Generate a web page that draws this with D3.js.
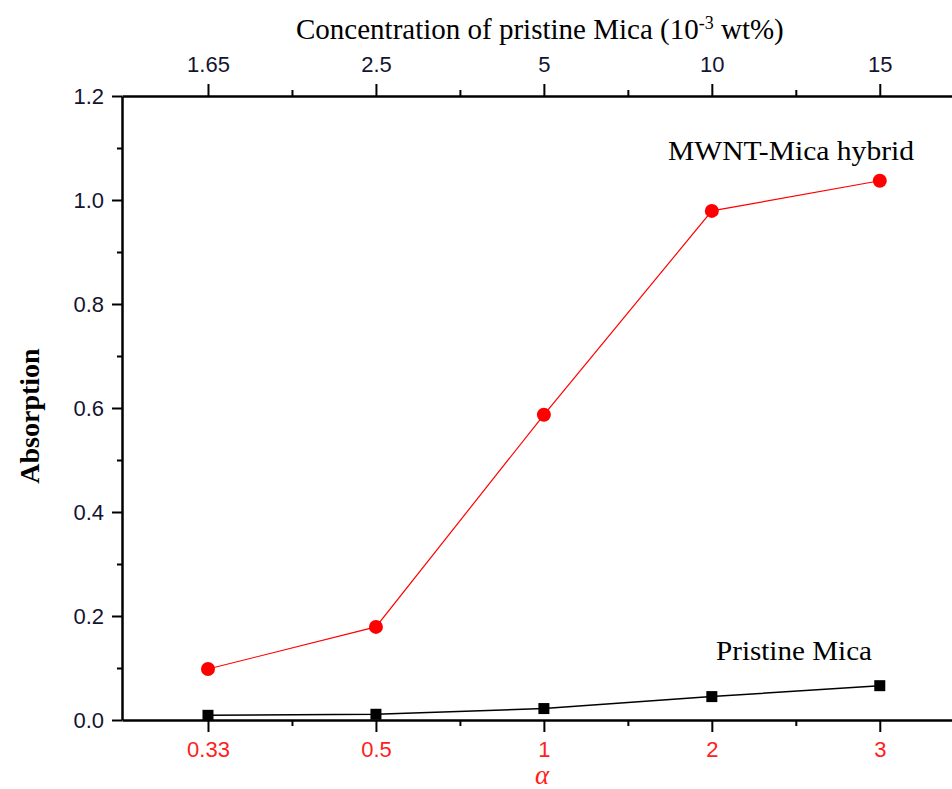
<!DOCTYPE html>
<html>
<head>
<meta charset="utf-8">
<script src="https://cdn.jsdelivr.net/npm/d3@7"></script>
<style>
  html, body { margin: 0; padding: 0; background: #fff; }
  svg { display: block; }
</style>
</head>
<body>
<script>
// ---- data ----
const alphaLabels = ["0.33", "0.5", "1", "2", "3"];
const concLabels = ["1.65", "2.5", "5", "10", "15"];
const hybridValues = [0.098, 0.179, 0.587, 0.979, 1.037];
const pristineValues = [0.009, 0.011, 0.022, 0.045, 0.066];
const yTickValues = [0, 0.2, 0.4, 0.6, 0.8, 1.0, 1.2];
const yMinorValues = [0.1, 0.3, 0.5, 0.7, 0.9, 1.1];
const xMinorValues = [0.5, 1.5, 2.5, 3.5];

const W = 952, H = 789;
const svg = d3.select("body").append("svg").attr("width", W).attr("height", H);

const x = d3.scaleLinear().domain([-0.512, 4.43]).range([122, 952]);
const y = d3.scaleLinear().domain([0, 1.2]).range([720, 96]);

const sansFont = "'Liberation Sans', Arial, sans-serif";
const serifFont = "'Liberation Serif', 'Times New Roman', serif";

function styleAxis(g, color, width) {
  g.select(".domain").attr("stroke", "#000").attr("stroke-width", width);
  g.selectAll(".tick line").attr("stroke", "#000").attr("stroke-width", 2);
  g.selectAll(".tick text").attr("fill", color)
    .style("font-family", sansFont).style("font-size", "22px");
}

// bottom axis
const xb = svg.append("g").attr("transform", `translate(0,${y(0)})`)
  .call(d3.axisBottom(x).tickValues(d3.range(alphaLabels.length))
    .tickFormat(i => alphaLabels[i]).tickSize(12).tickSizeOuter(0).tickPadding(9));
styleAxis(xb, "#ff2020", 2.5);
svg.append("g").attr("transform", `translate(0,${y(0)})`)
  .call(d3.axisBottom(x).tickValues(xMinorValues).tickFormat("").tickSize(6).tickSizeOuter(0))
  .call(g => { g.select(".domain").remove(); g.selectAll("line").attr("stroke", "#000").attr("stroke-width", 2); });

// top axis
const xt = svg.append("g").attr("transform", `translate(0,${y(1.2)})`)
  .call(d3.axisTop(x).tickValues(d3.range(concLabels.length))
    .tickFormat(i => concLabels[i]).tickSize(12).tickSizeOuter(0).tickPadding(12));
styleAxis(xt, "#141432", 2.5);
svg.append("g").attr("transform", `translate(0,${y(1.2)})`)
  .call(d3.axisTop(x).tickValues(xMinorValues).tickFormat("").tickSize(6).tickSizeOuter(0))
  .call(g => { g.select(".domain").remove(); g.selectAll("line").attr("stroke", "#000").attr("stroke-width", 2); });

// left axis
const yl = svg.append("g").attr("transform", `translate(${x.range()[0]},0)`)
  .call(d3.axisLeft(y).tickValues(yTickValues).tickFormat(d3.format(".1f"))
    .tickSize(10).tickSizeOuter(0).tickPadding(8));
styleAxis(yl, "#141432", 2.5);
svg.append("g").attr("transform", `translate(${x.range()[0]},0)`)
  .call(d3.axisLeft(y).tickValues(yMinorValues).tickFormat("").tickSize(5).tickSizeOuter(0))
  .call(g => { g.select(".domain").remove(); g.selectAll("line").attr("stroke", "#000").attr("stroke-width", 2); });

// lines
const line = d3.line().x((d, i) => x(i)).y(d => y(d));
svg.append("path").datum(pristineValues).attr("d", line)
  .attr("fill", "none").attr("stroke", "#000").attr("stroke-width", 1.5);
svg.append("path").datum(hybridValues).attr("d", line)
  .attr("fill", "none").attr("stroke", "#ff0000").attr("stroke-width", 1.2);

// markers
svg.append("g").selectAll("rect").data(pristineValues).join("rect")
  .attr("x", (d, i) => x(i) - 5.5).attr("y", d => y(d) - 5.5)
  .attr("width", 11).attr("height", 11).attr("fill", "#000");
svg.append("g").selectAll("circle").data(hybridValues).join("circle")
  .attr("cx", (d, i) => x(i)).attr("cy", d => y(d)).attr("r", 7).attr("fill", "#ff0000");

// texts
const title = svg.append("text").attr("x", 296).attr("y", 39)
  .style("font-family", serifFont).style("font-size", "29px").attr("fill", "#000");
title.append("tspan").text("Concentration of pristine Mica (10");
title.append("tspan").attr("dy", -10).style("font-size", "18px").text("-3");
title.append("tspan").attr("dy", 10).text(" wt%)");

svg.append("text").attr("x", 542).attr("y", 784).attr("text-anchor", "middle")
  .style("font-family", serifFont).style("font-size", "27px").style("font-style", "italic")
  .attr("fill", "#ff2020").text("α");

svg.append("text").attr("transform", `translate(39,416) rotate(-90)`).attr("text-anchor", "middle")
  .style("font-family", serifFont).style("font-size", "28px").style("font-weight", "bold")
  .attr("fill", "#000").text("Absorption");

svg.append("text").attr("x", 668).attr("y", 160)
  .style("font-family", serifFont).style("font-size", "28px").attr("fill", "#000")
  .attr("textLength", 246).attr("lengthAdjust", "spacingAndGlyphs").text("MWNT-Mica hybrid");
svg.append("text").attr("x", 716).attr("y", 660)
  .style("font-family", serifFont).style("font-size", "28px").attr("fill", "#000")
  .attr("textLength", 156).attr("lengthAdjust", "spacingAndGlyphs").text("Pristine Mica");
</script>
</body>
</html>
